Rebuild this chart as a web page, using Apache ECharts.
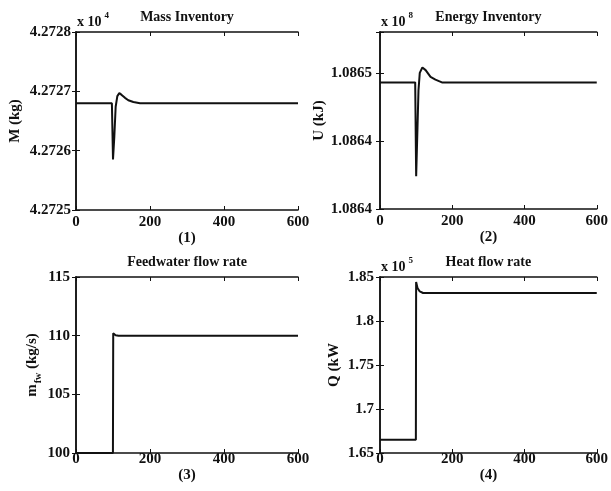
<!DOCTYPE html>
<html>
<head>
<meta charset="utf-8">
<script src="https://cdn.jsdelivr.net/npm/echarts@6/dist/echarts.min.js"></script>
<style>
html,body{margin:0;padding:0;background:#fff;}
#chart{width:611px;height:491px;}
</style>
</head>
<body>
<div id="chart"></div>
<script>
// ---- Data ----
var xTicks = [0, 200, 400, 600];

// (1) Mass inventory, units of 1e4 kg
var massTime   = [0, 97, 100, 103.6, 107.2, 111.7, 117.1, 123.4, 132.4, 141.4, 155, 173, 600];
var massValues = [4.272680, 4.272680, 4.272585, 4.272624, 4.272674, 4.272692, 4.272697, 4.272694, 4.272689, 4.272685, 4.272682, 4.272680, 4.272680];
var massTicks  = [4.2725, 4.2726, 4.2727, 4.2728];
var massTickLabels = ['4.2725', '4.2726', '4.2727', '4.2728'];

// (2) Energy inventory, units of 1e8 kJ
var energyTime   = [0, 97.4, 100.1, 103.8, 106.5, 110.1, 117.3, 126.3, 139.9, 153.4, 171.4, 600];
var energyValues = [1.086493, 1.086493, 1.086424, 1.086460, 1.086487, 1.086500, 1.086504, 1.086502, 1.086497, 1.086495, 1.086493, 1.086493];
var energyTicks  = [1.0864, 1.08645, 1.0865];
var energyTickLabels = ['1.0864', '1.0864', '1.0865'];

// (3) Feedwater flow rate, kg/s
var fwTime   = [0, 99.8, 100.6, 103, 107, 115, 600];
var fwValues = [100, 100, 110.2, 110.12, 110.04, 110, 110];
var fwTicks  = [100, 105, 110, 115];
var fwTickLabels = ['100', '105', '110', '115'];

// (4) Heat flow rate, units of 1e5 kW
var qTime   = [0, 99.3, 100, 103.8, 110.1, 119.1, 600];
var qValues = [1.6651, 1.6651, 1.8443, 1.8375, 1.8336, 1.8318, 1.8318];
var qTicks  = [1.65, 1.7, 1.75, 1.8, 1.85];
var qTickLabels = ['1.65', '1.7', '1.75', '1.8', '1.85'];

var titles  = ['Mass Inventory', 'Energy Inventory', 'Feedwater flow rate', 'Heat flow rate'];
var xNames  = ['(1)', '(2)', '(3)', '(4)'];
var yNames  = ['M (kg)', 'U (kJ)', '{m|m}{s|fw}{m| (kg/s)}', 'Q (kW'];
var exps    = ['4', '8', null, '5'];

// ---- Build ----
function pairs(t, v) { return t.map(function (x, i) { return [x, v[i]]; }); }
function labeler(ticks, labels) {
  return function (val) {
    for (var i = 0; i < ticks.length; i++) {
      if (Math.abs(val - ticks[i]) < 1e-7) return labels[i];
    }
    return '';
  };
}

var FONT = '"Liberation Serif", "Times New Roman", serif';
var INK = '#111';

var grids = [
  {left: 76, top: 32, width: 222, height: 178},
  {left: 380, top: 32, width: 222, height: 177},
  {left: 76, top: 277, width: 222, height: 176},
  {left: 380, top: 277, width: 222, height: 176}
];
var yRanges = [
  {min: 4.2725, max: 4.2728, interval: 0.0001, ticks: massTicks, labels: massTickLabels},
  {min: 1.0864, max: 1.08653, interval: 0.00005, ticks: energyTicks, labels: energyTickLabels},
  {min: 100, max: 115, interval: 5, ticks: fwTicks, labels: fwTickLabels},
  {min: 1.65, max: 1.85, interval: 0.05, ticks: qTicks, labels: qTickLabels}
];
var seriesData = [
  pairs(massTime, massValues),
  pairs(energyTime, energyValues),
  pairs(fwTime, fwValues),
  pairs(qTime, qValues)
];
var xLabelMargin = [5, 5, -1, -1];
var xNameGap = [19, 19, 11, 11];
var yLabelMargin = [5, 8, 6, 6];
var yNameGap = [53, 52, 27, 38];

var axisLineStyle = {show: true, lineStyle: {color: INK, width: 1.5}};
var tickStyle = {show: true, inside: true, length: 4, lineStyle: {color: INK, width: 1}};

var xAxes = [], yAxes = [], series = [];
for (var i = 0; i < 4; i++) {
  xAxes.push({
    type: 'value', gridIndex: i, min: 0, max: 600, interval: 200, position: 'bottom',
    axisLine: axisLineStyle, axisTick: tickStyle, splitLine: {show: false},
    axisLabel: {margin: xLabelMargin[i], fontFamily: FONT, fontWeight: 'bold', fontSize: 15, color: INK,
      formatter: labeler(xTicks, xTicks.map(String))},
    name: xNames[i], nameLocation: 'middle', nameGap: xNameGap[i],
    nameTextStyle: {fontFamily: FONT, fontWeight: 'bold', fontSize: 15, color: INK}
  });
  xAxes.push({
    type: 'value', gridIndex: i, min: 0, max: 600, interval: 200, position: 'top',
    axisLine: axisLineStyle, axisTick: tickStyle, splitLine: {show: false},
    axisLabel: {show: false},
    name: titles[i], nameLocation: 'middle', nameGap: 8,
    nameTextStyle: {fontFamily: FONT, fontWeight: 'bold', fontSize: 14, color: INK}
  });
  var r = yRanges[i];
  yAxes.push({
    type: 'value', gridIndex: i, min: r.min, max: r.max, interval: r.interval, position: 'left',
    axisLine: axisLineStyle, axisTick: tickStyle, splitLine: {show: false},
    axisLabel: {margin: yLabelMargin[i], fontFamily: FONT, fontWeight: 'bold', fontSize: 15, color: INK,
      formatter: labeler(r.ticks, r.labels)},
    name: yNames[i], nameLocation: 'middle', nameGap: yNameGap[i], nameRotate: 90,
    nameTextStyle: {fontFamily: FONT, fontWeight: 'bold', fontSize: 15, color: INK,
      rich: {
        m: {fontFamily: FONT, fontWeight: 'bold', fontSize: 15, color: INK, lineHeight: 15, verticalAlign: 'top'},
        s: {fontFamily: FONT, fontWeight: 'bold', fontSize: 10, color: INK, lineHeight: 10, verticalAlign: 'top', padding: [9, 0, 0, 1]}
      }}
  });
  yAxes.push({
    type: 'value', gridIndex: i, min: r.min, max: r.max, interval: r.interval, position: 'right',
    axisLine: axisLineStyle, axisTick: tickStyle, splitLine: {show: false},
    axisLabel: {show: false}
  });
  series.push({
    type: 'line', xAxisIndex: 2 * i, yAxisIndex: 2 * i, data: seriesData[i],
    showSymbol: false, symbol: 'none', lineStyle: {color: INK, width: 2}, clip: true
  });
}

var graphics = [];
for (var j = 0; j < 4; j++) {
  if (!exps[j]) continue;
  graphics.push({
    type: 'text', left: grids[j].left + 1, top: grids[j].top - 21,
    style: {
      text: '{a|x 10}{b|' + exps[j] + '}',
      rich: {
        a: {fontFamily: FONT, fontWeight: 'bold', fontSize: 14, fill: INK, lineHeight: 18, verticalAlign: 'bottom'},
        b: {fontFamily: FONT, fontWeight: 'bold', fontSize: 9, fill: INK, lineHeight: 18, verticalAlign: 'top', padding: [0, 0, 0, 3]}
      }
    }
  });
}

var chart = echarts.init(document.getElementById('chart'), null, {renderer: 'canvas'});
chart.setOption({
  animation: false,
  backgroundColor: '#fff',
  grid: grids,
  xAxis: xAxes,
  yAxis: yAxes,
  series: series,
  graphic: graphics
});
</script>
</body>
</html>
